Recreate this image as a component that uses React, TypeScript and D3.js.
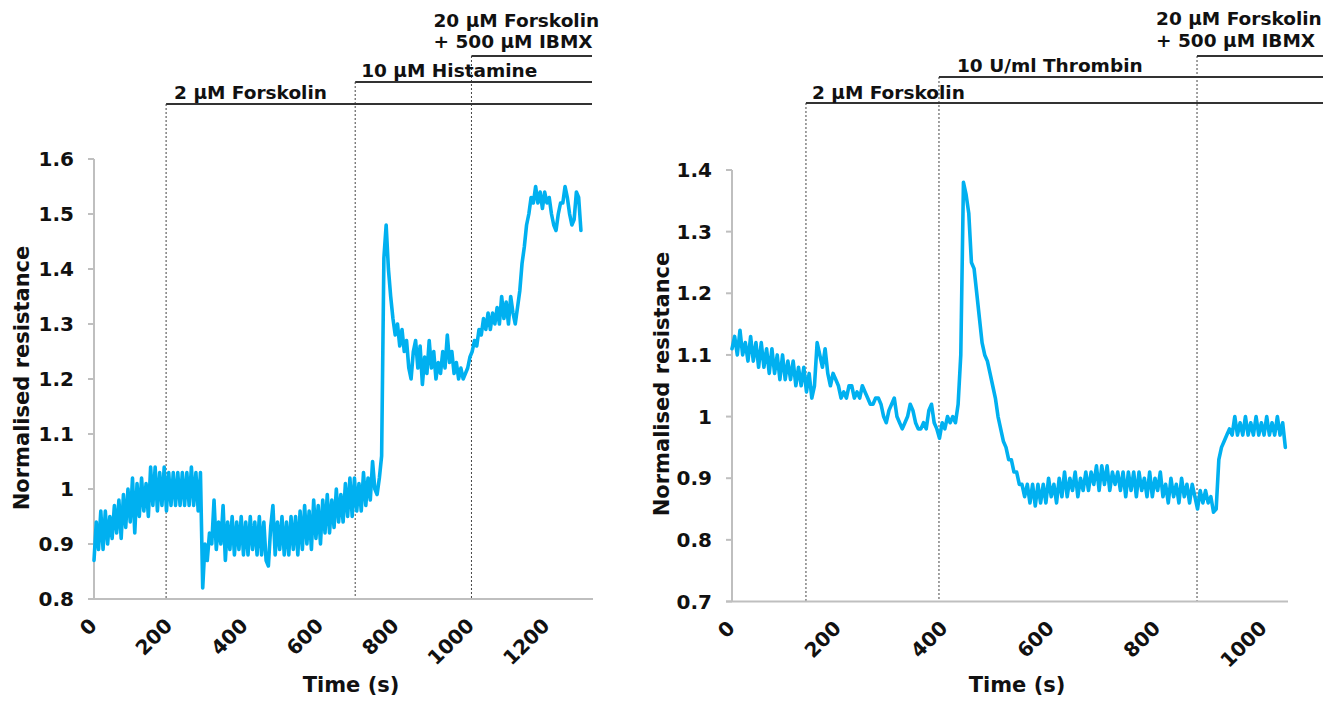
import React from 'react';
import * as d3 from 'd3';

// ---------- DATA ----------
// Left panel: sampled every LEFT_STEP seconds starting at 0 s
const LEFT_STEP = 6;
const leftValues = [
  0.87, 0.94, 0.89, 0.96, 0.89, 0.96, 0.90, 0.95, 0.91, 0.97,
  0.92, 0.98, 0.91, 0.99, 0.93, 1.00, 0.94, 1.02, 0.92, 1.01,
  0.95, 1.02, 0.96, 1.01, 0.95, 1.04, 0.97, 1.04, 0.96, 1.03,
  0.97, 1.04, 0.96, 1.03, 0.97, 1.03, 0.97, 1.03, 0.97, 1.03,
  0.97, 1.03, 0.97, 1.04, 0.97, 1.03, 0.96, 1.03, 0.82, 0.90,
  0.87, 0.92, 0.90, 0.98, 0.89, 0.94, 0.90, 0.97, 0.87, 0.94,
  0.89, 0.95, 0.88, 0.94, 0.89, 0.95, 0.88, 0.94, 0.88, 0.95,
  0.89, 0.94, 0.88, 0.95, 0.88, 0.94, 0.87, 0.86, 0.93, 0.97,
  0.88, 0.94, 0.89, 0.95, 0.88, 0.94, 0.88, 0.95, 0.89, 0.95,
  0.88, 0.96, 0.89, 0.97, 0.90, 0.96, 0.89, 0.98, 0.91, 0.97,
  0.90, 0.98, 0.92, 0.99, 0.92, 0.98, 0.93, 1.00, 0.94, 0.99,
  0.94, 1.01, 0.95, 1.02, 0.95, 1.02, 0.96, 1.01, 0.96, 1.03,
  0.97, 1.02, 0.98, 1.05, 1.00, 0.99, 1.02, 1.06, 1.42, 1.48,
  1.40, 1.35, 1.31, 1.28, 1.30, 1.26, 1.29, 1.25, 1.27, 1.22,
  1.20, 1.25, 1.27, 1.22, 1.26, 1.19, 1.24, 1.21, 1.27, 1.22,
  1.25, 1.20, 1.23, 1.21, 1.25, 1.22, 1.28, 1.23, 1.25, 1.21,
  1.23, 1.20, 1.22, 1.20, 1.21, 1.22, 1.24, 1.25, 1.27, 1.26,
  1.29, 1.28, 1.31, 1.29, 1.32, 1.29, 1.32, 1.30, 1.33, 1.30,
  1.35, 1.31, 1.34, 1.30, 1.35, 1.32, 1.30, 1.33, 1.36, 1.41,
  1.44, 1.48, 1.50, 1.53, 1.52, 1.55, 1.52, 1.54, 1.51, 1.54,
  1.52, 1.53, 1.50, 1.48, 1.47, 1.50, 1.52, 1.52, 1.55, 1.53,
  1.50, 1.48, 1.49, 1.54, 1.53, 1.47,
];

// Right panel: sampled every RIGHT_STEP seconds starting at 0 s
const RIGHT_STEP = 5;
const rightValues = [
  1.11, 1.13, 1.10, 1.14, 1.10, 1.12, 1.09, 1.13, 1.09, 1.12,
  1.08, 1.12, 1.08, 1.11, 1.07, 1.11, 1.07, 1.10, 1.06, 1.10,
  1.06, 1.09, 1.06, 1.09, 1.05, 1.08, 1.05, 1.08, 1.04, 1.07,
  1.03, 1.05, 1.12, 1.10, 1.08, 1.11, 1.07, 1.05, 1.07, 1.06,
  1.05, 1.03, 1.04, 1.03, 1.05, 1.05, 1.03, 1.04, 1.03, 1.05,
  1.04, 1.03, 1.02, 1.02, 1.03, 1.03, 1.02, 1.00, 0.99, 1.01,
  1.02, 1.03, 1.00, 0.99, 0.98, 0.99, 1.00, 1.02, 1.01, 0.99,
  0.98, 0.98, 0.99, 0.98, 1.01, 1.02, 0.99, 0.98, 0.965, 0.99,
  0.98, 1.00, 0.99, 1.00, 0.99, 1.02, 1.10, 1.38, 1.36, 1.33,
  1.25, 1.24, 1.20, 1.16, 1.12, 1.10, 1.09, 1.07, 1.05, 1.03,
  1.00, 0.98, 0.96, 0.95, 0.93, 0.93, 0.91, 0.91, 0.89, 0.89,
  0.87, 0.89, 0.86, 0.89, 0.855, 0.89, 0.86, 0.89, 0.86, 0.90,
  0.87, 0.89, 0.86, 0.90, 0.87, 0.91, 0.87, 0.90, 0.88, 0.91,
  0.87, 0.90, 0.88, 0.91, 0.88, 0.91, 0.89, 0.92, 0.88, 0.92,
  0.89, 0.92, 0.88, 0.91, 0.89, 0.91, 0.88, 0.91, 0.87, 0.91,
  0.88, 0.91, 0.87, 0.91, 0.88, 0.90, 0.87, 0.91, 0.87, 0.90,
  0.88, 0.91, 0.87, 0.89, 0.86, 0.90, 0.87, 0.89, 0.86, 0.90,
  0.87, 0.89, 0.86, 0.89, 0.87, 0.85, 0.88, 0.86, 0.88, 0.86,
  0.87, 0.845, 0.85, 0.93, 0.95, 0.96, 0.97, 0.98, 0.97, 1.00,
  0.97, 0.99, 0.97, 1.00, 0.97, 0.99, 0.97, 1.00, 0.97, 0.99,
  0.97, 1.00, 0.97, 0.99, 0.97, 1.00, 0.97, 0.99, 0.95,
];

const leftXTicks = [0, 200, 400, 600, 800, 1000, 1200];
const leftYTicks = [0.8, 0.9, 1.0, 1.1, 1.2, 1.3, 1.4, 1.5, 1.6];
const rightXTicks = [0, 200, 400, 600, 800, 1000];
const rightYTicks = [0.7, 0.8, 0.9, 1.0, 1.1, 1.2, 1.3, 1.4];

// Treatment addition times (s) and their labels
const leftEvents = [191, 692, 1000];
const leftEventLabels = [['2 μM Forskolin'], ['10 μM Histamine'], ['20 μM Forskolin', '+ 500 μM IBMX']];
const rightEvents = [139, 389, 874];
const rightEventLabels = [['2 μM Forskolin'], ['10 U/ml Thrombin'], ['20 μM Forskolin', '+ 500 μM IBMX']];

const xTitle = 'Time (s)';
const yTitle = 'Normalised resistance';

// ---------- LAYOUT ----------
const FONT = '"DejaVu Sans", Verdana, sans-serif';
const LINE_COLOR = '#00B0F0';
const AXIS_COLOR = '#BFBFBF';

type Layout = {
  x0: number; x1: number; yTop: number; yBot: number;
  xMax: number; yMin: number; yMax: number;
  barYs: number[]; barEnd: number;
  labelDx: number[]; labelBaselines: number[][];
  yTitleX: number; yTitleY: number; xTitleX: number; xTitleY: number;
};

const leftLayout: Layout = {
  x0: 94, x1: 593, yTop: 159, yBot: 599,
  xMax: 1322, yMin: 0.8, yMax: 1.6,
  barYs: [104, 82, 56], barEnd: 592,
  labelDx: [8, 6, -38], labelBaselines: [[99], [77], [27, 48]],
  yTitleX: 29, yTitleY: 378, xTitleX: 351, xTitleY: 692,
};

const rightLayout: Layout = {
  x0: 732, x1: 1288, yTop: 170, yBot: 601.5,
  xMax: 1045, yMin: 0.7, yMax: 1.4,
  barYs: [103, 77, 56], barEnd: 1323,
  labelDx: [6, 18, -41], labelBaselines: [[99], [72], [25, 47]],
  yTitleX: 669, yTitleY: 384, xTitleX: 1017, xTitleY: 692,
};

function fmt(v: number) {
  return String(+v.toFixed(1));
}

function Panel(props: {
  values: number[]; step: number; xTicks: number[]; yTicks: number[];
  events: number[]; eventLabels: string[][]; L: Layout;
}) {
  const { values, step, xTicks, yTicks, events, eventLabels, L } = props;
  const x = d3.scaleLinear().domain([0, L.xMax]).range([L.x0, L.x1]);
  const y = d3.scaleLinear().domain([L.yMin, L.yMax]).range([L.yBot, L.yTop]);
  const pts = values.map((v, i) => [i * step, v] as [number, number]);
  const line = d3.line<[number, number]>().x(d => x(d[0])).y(d => y(d[1]));

  return (
    <g>
      {events.map((t, i) => (
        <line key={'d' + i} x1={x(t)} x2={x(t)} y1={L.barYs[i]} y2={L.yBot}
          stroke="#444" strokeWidth={1} strokeDasharray="2,2" />
      ))}
      {events.map((t, i) => (
        <line key={'b' + i} x1={x(t)} x2={L.barEnd} y1={L.barYs[i]} y2={L.barYs[i]}
          stroke="#333" strokeWidth={2.2} />
      ))}
      {eventLabels.map((lines, i) =>
        lines.map((s, j) => (
          <text key={'l' + i + '_' + j} x={x(events[i]) + L.labelDx[i]} y={L.labelBaselines[i][j]}
            fontFamily={FONT} fontWeight="bold" fontSize={18.5} fill="#111">{s}</text>
        ))
      )}
      <line x1={L.x0} x2={L.x0} y1={L.yTop} y2={L.yBot} stroke={AXIS_COLOR} strokeWidth={2} />
      <line x1={L.x0 - 6} x2={L.x1} y1={L.yBot} y2={L.yBot} stroke={AXIS_COLOR} strokeWidth={2} />
      {yTicks.map((v, i) => (
        <g key={'yt' + i}>
          <line x1={L.x0 - 6} x2={L.x0} y1={y(v)} y2={y(v)} stroke={AXIS_COLOR} strokeWidth={2} />
          <text x={L.x0 - 20} y={y(v)} dy="0.36em" textAnchor="end"
            fontFamily={FONT} fontWeight="bold" fontSize={20} fill="#111">{fmt(v)}</text>
        </g>
      ))}
      {xTicks.map((v, i) => (
        <text key={'xt' + i} transform={`translate(${x(v) + 4},${L.yBot + 28}) rotate(-45)`}
          textAnchor="end" fontFamily={FONT} fontWeight="bold" fontSize={20} fill="#111">{v}</text>
      ))}
      <path d={line(pts) || ''} fill="none" stroke={LINE_COLOR} strokeWidth={3.6}
        strokeLinejoin="round" strokeLinecap="round" />
      <text x={L.xTitleX} y={L.xTitleY} textAnchor="middle" fontFamily={FONT}
        fontWeight="bold" fontSize={21} fill="#111">{xTitle}</text>
      <text transform={`translate(${L.yTitleX},${L.yTitleY}) rotate(-90)`} textAnchor="middle"
        fontFamily={FONT} fontWeight="bold" fontSize={21} fill="#111">{yTitle}</text>
    </g>
  );
}

export default function App() {
  return (
    <svg width={1340} height={701} style={{ position: 'absolute', left: 0, top: 0, background: '#fff' }}>
      <rect x={0} y={0} width={1340} height={701} fill="#fff" />
      <Panel values={leftValues} step={LEFT_STEP} xTicks={leftXTicks} yTicks={leftYTicks}
        events={leftEvents} eventLabels={leftEventLabels} L={leftLayout} />
      <Panel values={rightValues} step={RIGHT_STEP} xTicks={rightXTicks} yTicks={rightYTicks}
        events={rightEvents} eventLabels={rightEventLabels} L={rightLayout} />
    </svg>
  );
}
